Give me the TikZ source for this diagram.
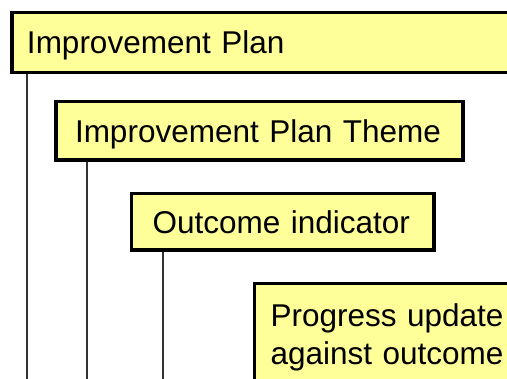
\documentclass[tikz,border=0pt]{standalone}
\usepackage{fontspec}
\setmainfont{Liberation Sans}
\definecolor{boxfill}{HTML}{FFFF99}
\definecolor{linegray}{HTML}{333333}
\tikzset{
  planbox/.style={draw=black, line width=3.5pt, fill=boxfill, outer sep=0pt,
    anchor=north west, font=\fontsize{31.5}{38}\selectfont, align=left,
    inner ysep=0pt, text height=26pt, text depth=3pt},
  link/.style={draw=linegray, line width=2.2pt, shorten <=1.75pt}
}
\begin{document}
\begin{tikzpicture}[x=1pt,y=-1pt]
\useasboundingbox (0,0) rectangle (507,379);
\clip (0,0) rectangle (507,379);
\node[planbox, minimum width=518pt, minimum height=60pt, inner xsep=15pt, text width=488pt]
  (b1) at (12,12.5) {\mbox{Improvement Plan}};
\node[planbox, minimum width=407pt, minimum height=58.5pt, inner xsep=19pt, text width=369pt]
  (b2) at (56,101.5) {\mbox{Improvement Plan Theme}};
\node[planbox, minimum width=302.5pt, minimum height=56.5pt, inner xsep=21pt, text width=260.5pt]
  (b3) at (131.5,193.5) {\mbox{Outcome indicator}};
\node[planbox, minimum width=305pt, inner xsep=16pt, inner ysep=17.5pt, text width=273pt, text depth=120pt]
  (b4) at (254.5,283.5) {Progress update\\against outcome};
\coordinate (e1) at (27,385);
\coordinate (e2) at (87,385);
\coordinate (e3) at (163,385);
\draw[link] (e1 |- b1.south) -- (e1);
\draw[link] (e2 |- b2.south) -- (e2);
\draw[link] (e3 |- b3.south) -- (e3);
\end{tikzpicture}
\end{document}
